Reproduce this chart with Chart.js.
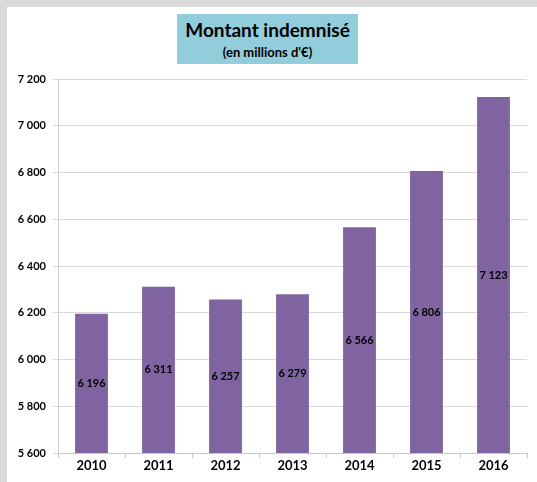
<!DOCTYPE html>
<html>
<head>
<meta charset="utf-8">
<script src="https://cdn.jsdelivr.net/npm/chart.js@4"></script>
<style>
  html, body { margin: 0; padding: 0; }
  body { width: 537px; height: 482px; background: #d9d9d9; position: relative; overflow: hidden; }
  #frame { position: absolute; left: 7px; top: 7px; width: 530px; height: 475px; background: #fff; }
  #titleBox {
    position: absolute; left: 170px; top: 7px; width: 181px; height: 50px;
    background: #92cddc; text-align: center; font-family: Lato, "Open Sans", sans-serif;
    font-weight: bold; color: #000;
  }
  #titleBox .main { font-size: 19px; line-height: 20px; padding-top: 6px; }
  #titleBox .sub { font-size: 13px; line-height: 16px; padding-top: 4px; }
  #myChart { position: absolute; left: 0; top: 0; }
</style>
</head>
<body>
<div id="frame">
  <div id="titleBox"><div class="main">Montant indemnisé</div><div class="sub">(en millions d'€)</div></div>
  <canvas id="myChart" width="530" height="475"></canvas>
</div>
<script>
// data
const years = ['2010', '2011', '2012', '2013', '2014', '2015', '2016'];
const montants = [6196, 6311, 6257, 6279, 6566, 6806, 7123];
const yMin = 5600;
const yMax = 7200;
const yStep = 200;

function fmt(v) {
  return String(v).replace(/\B(?=(\d{3})+(?!\d))/g, ' ');
}

// draws the value label half-way up each bar
const barLabels = {
  id: 'barLabels',
  afterDraw(chart) {
    const ctx = chart.ctx;
    const xs = chart.scales.x;
    const ys = chart.scales.y;
    const base = ys.getPixelForValue(yMin);
    ctx.save();
    ctx.font = 'bold 11px Lato, sans-serif';
    ctx.fillStyle = '#000';
    ctx.textAlign = 'center';
    ctx.textBaseline = 'middle';
    montants.forEach((v, i) => {
      const x = xs.getPixelForValue(i);
      const top = ys.getPixelForValue(v);
      ctx.fillText(fmt(v), x, (top + base) / 2);
    });
    ctx.restore();
  }
};

const config = {
  type: 'bar',
  data: {
    labels: years,
    datasets: [{
      data: montants,
      backgroundColor: '#8064a2',
      borderWidth: 0,
      categoryPercentage: 1,
      barPercentage: 0.49
    }]
  },
  options: {
    responsive: false,
    animation: false,
    layout: { padding: { top: 72, right: 10, left: 0, bottom: 0 } },
    plugins: { legend: { display: false }, tooltip: { enabled: false } },
    scales: {
      y: {
        min: yMin,
        max: yMax,
        afterFit(scale) { scale.width = 51; },
        ticks: {
          stepSize: yStep,
          padding: 7,
          color: '#000',
          font: { family: 'Lato, "Open Sans", sans-serif', size: 11, weight: 'bold' },
          callback: (v) => fmt(v)
        },
        grid: { color: '#d9d9d9', tickLength: 5, lineWidth: 1 },
        border: { color: '#d0d0d0' }
      },
      x: {
        afterFit(scale) { scale.height = 29; },
        ticks: {
          padding: 0,
          color: '#000',
          font: { family: 'Lato, "Open Sans", sans-serif', size: 13, weight: 'bold' }
        },
        grid: { drawOnChartArea: false, tickLength: 5, color: '#c8c8c8' },
        border: { color: '#c8c8c8' }
      }
    }
  },
  plugins: [barLabels]
};

const myChart = new Chart(document.getElementById('myChart'), config);
</script>
</body>
</html>
